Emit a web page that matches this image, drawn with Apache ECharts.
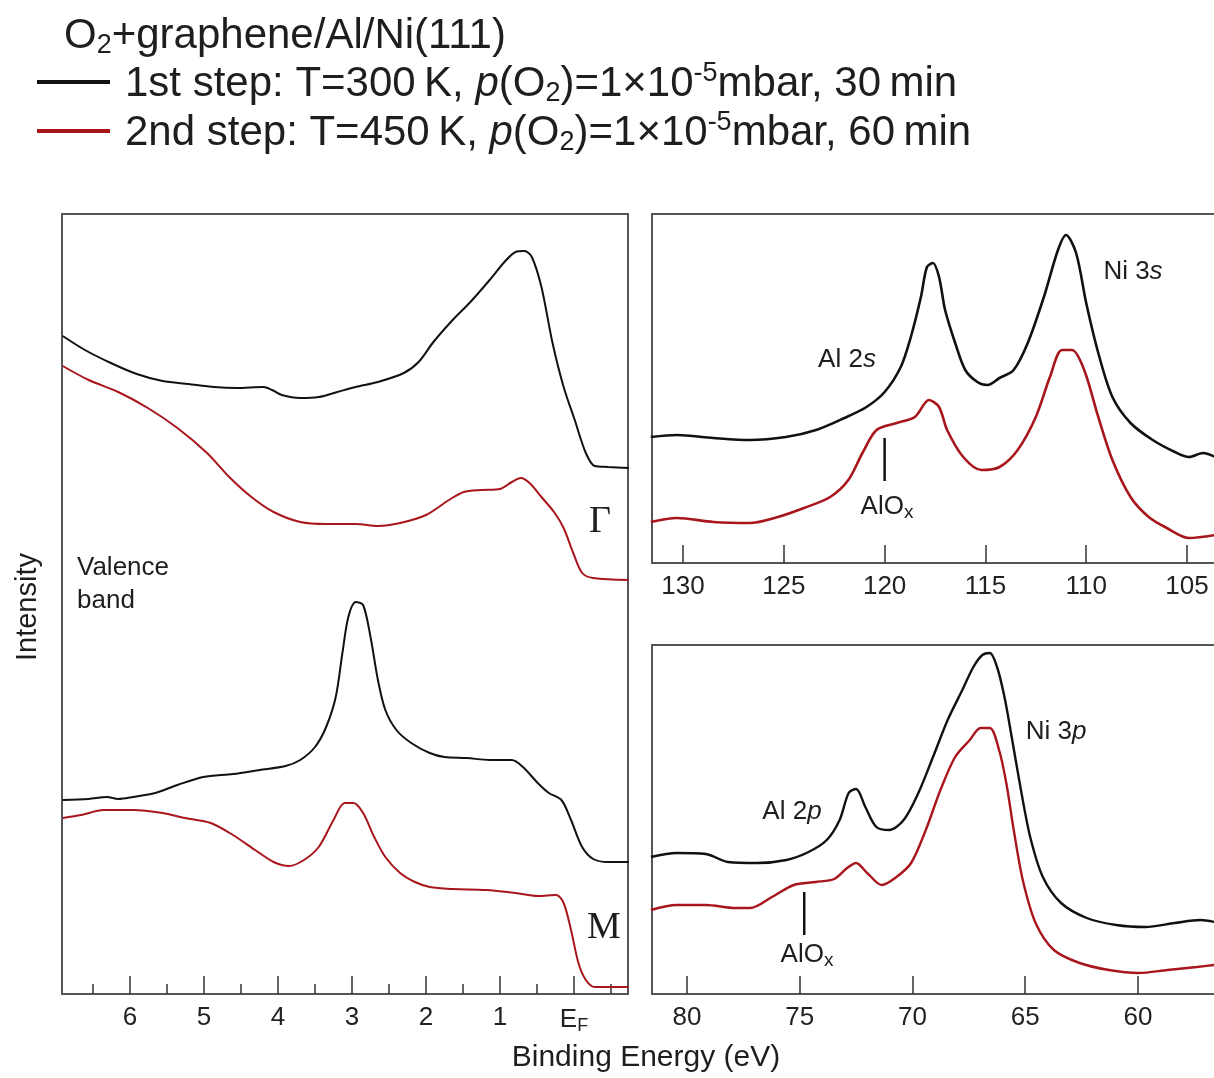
<!DOCTYPE html>
<html><head><meta charset="utf-8">
<script src="https://cdn.jsdelivr.net/npm/echarts@6/dist/echarts.min.js"></script>
<style>html,body{margin:0;padding:0;background:#fff}#c{width:1214px;height:1078px}</style>
</head><body><div id="c"></div>
<script>
// ---------- Valence band (left panel), binding energy in eV ----------
const gamma1E = [6.91, 6.61, 6.26, 5.91, 5.56, 5.21, 4.86, 4.56, 4.20, 4.08, 3.95, 3.70, 3.45, 3.20, 2.95, 2.65, 2.30, 2.10, 1.90, 1.64, 1.40, 1.14, 0.94, 0.79, 0.67, 0.57, 0.44, 0.29, 0.14, -0.01, -0.16, -0.28, -0.46, -0.74];
const gamma1I = [658, 644, 631, 620, 613, 610, 607, 606, 607, 604, 599, 596, 597, 602, 607, 612, 621, 632, 652, 674, 692, 714, 732, 742, 743, 737, 707, 651, 607, 574, 541, 528, 527, 526];
const gamma2E = [6.91, 6.56, 6.16, 5.76, 5.36, 4.96, 4.66, 4.36, 4.06, 3.70, 3.35, 2.95, 2.65, 2.35, 2.00, 1.69, 1.49, 1.25, 1.00, 0.84, 0.72, 0.60, 0.44, 0.27, 0.14, 0.01, -0.11, -0.26, -0.74];
const gamma2I = [628, 614, 602, 586, 566, 541, 517, 497, 482, 472, 470, 470, 468, 471, 479, 494, 502, 504, 505, 512, 516, 511, 497, 482, 466, 441, 421, 416, 414];
const m1E = [6.91, 6.56, 6.31, 6.16, 5.96, 5.66, 5.36, 5.01, 4.61, 4.25, 3.90, 3.70, 3.50, 3.35, 3.22, 3.13, 3.05, 2.95, 2.85, 2.75, 2.65, 2.55, 2.40, 2.20, 1.95, 1.75, 1.45, 1.14, 0.84, 0.69, 0.49, 0.34, 0.17, 0.04, -0.11, -0.26, -0.46, -0.74];
const m1I = [194, 195, 197, 195, 197, 201, 209, 217, 220, 224, 228, 234, 247, 267, 297, 341, 377, 392, 389, 357, 314, 284, 264, 251, 241, 237, 236, 234, 234, 227, 211, 201, 194, 174, 147, 135, 132, 132];
const m2E = [6.91, 6.66, 6.36, 5.96, 5.56, 5.26, 4.91, 4.61, 4.31, 4.06, 3.85, 3.65, 3.45, 3.25, 3.10, 2.98, 2.85, 2.70, 2.55, 2.35, 2.15, 1.95, 1.64, 1.19, 0.79, 0.49, 0.24, 0.14, 0.04, -0.06, -0.16, -0.28, -0.74];
const m2I = [176, 179, 184, 184, 181, 176, 171, 159, 144, 132, 128, 134, 147, 174, 191, 191, 181, 157, 137, 121, 112, 107, 105, 104, 101, 98, 99, 91, 64, 31, 14, 7, 7];

// ---------- Al 2s / Ni 3s (top right) ----------
const s1E = [131.6, 130.3, 128.5, 126.7, 124.9, 123.4, 122.0, 120.9, 120.0, 119.2, 118.7, 118.2, 117.9, 117.6, 117.3, 117.0, 116.5, 116.0, 115.4, 114.9, 114.3, 113.6, 112.9, 112.1, 111.4, 111.0, 110.5, 110.0, 109.4, 108.7, 107.8, 106.7, 105.6, 104.9, 104.2, 103.6];
const s1I = [126, 128, 125, 123, 126, 133, 145, 156, 171, 196, 226, 266, 296, 300, 286, 253, 220, 193, 181, 178, 185, 193, 220, 266, 313, 328, 310, 260, 210, 166, 140, 123, 111, 106, 110, 106];
const s2E = [131.6, 130.3, 128.5, 126.7, 125.3, 124.0, 122.7, 121.8, 121.1, 120.4, 119.4, 118.5, 117.8, 117.3, 116.9, 116.1, 115.2, 114.3, 113.4, 112.5, 111.8, 111.2, 110.7, 110.1, 109.4, 108.7, 107.8, 106.9, 106.0, 104.9, 103.6];
const s2I = [41, 45, 41, 40, 46, 55, 66, 83, 110, 133, 140, 146, 163, 156, 133, 106, 93, 96, 113, 146, 186, 213, 213, 193, 146, 103, 66, 46, 35, 25, 28];
const aloxSE = [120, 120];
const aloxSI = [82, 125];

// ---------- Al 2p / Ni 3p (bottom right) ----------
const p1E = [81.6, 80.46, 79.16, 78.18, 76.89, 75.59, 74.61, 73.80, 73.23, 72.83, 72.5, 72.09, 71.60, 71.04, 70.39, 69.74, 69.09, 68.44, 67.79, 67.30, 66.90, 66.57, 66.25, 65.92, 65.60, 65.19, 64.78, 64.22, 63.41, 62.27, 60.97, 59.67, 58.37, 57.23, 56.6];
const p1I = [137, 141, 140, 132, 131, 134, 142, 154, 174, 201, 205, 187, 167, 164, 174, 201, 237, 274, 304, 327, 339, 341, 327, 297, 257, 204, 157, 117, 91, 76, 69, 67, 71, 74, 72];
const p2E = [81.6, 80.46, 79.16, 77.86, 77.2, 76.23, 75.26, 74.29, 73.47, 72.9, 72.5, 72.01, 71.36, 70.71, 70.06, 69.41, 68.76, 68.11, 67.46, 66.98, 66.57, 66.16, 65.84, 65.51, 65.11, 64.54, 63.73, 62.59, 61.29, 59.99, 58.69, 57.39, 56.6];
const p2I = [84, 89, 89, 86, 86, 97, 109, 112, 115, 126, 131, 121, 109, 117, 131, 164, 204, 237, 254, 266, 266, 244, 211, 164, 114, 71, 44, 31, 24, 21, 24, 27, 29];
const aloxPE = [74.8, 74.8];
const aloxPI = [59, 102];

// ---------- tick labels ----------
const vbTicks = [6, 5, 4, 3, 2, 1, 0];
const vbMinorTicks = [6.5, 5.5, 4.5, 3.5, 2.5, 1.5, 0.5, -0.5];
const sTicks = [130, 125, 120, 115, 110, 105];
const pTicks = [80, 75, 70, 65, 60];

const FONT = '"Liberation Sans", Arial, Helvetica, sans-serif';
const SERIF = '"Liberation Serif", "Times New Roman", serif';
const BLACK = '#111111';
const RED = '#a8161c';
const TXT = '#1e1e1e';
const FRAME = '#555555';

function pts(E, I) { return E.map((e, i) => [e, I[i]]); }

const chart = echarts.init(document.getElementById('c'), null, {renderer: 'canvas'});
const tickStyle = {color: '#333', width: 1.5};
const labelBase = {color: '#222', fontSize: 26, fontFamily: FONT, margin: 11};
const frameLine = {show: true, lineStyle: {color: FRAME, width: 2}};

function xAxisDef(gi, min, max, ticks, extra) {
  return Object.assign({
    gridIndex: gi, type: 'value', min: min, max: max, inverse: true, position: 'bottom',
    axisLine: {show: false}, splitLine: {show: false},
    axisTick: {show: true, inside: true, length: 18, lineStyle: tickStyle, customValues: ticks},
    axisLabel: Object.assign({}, labelBase, {customValues: ticks})
  }, extra || {});
}
function frameAxis(gi, min, max, pos) {
  return {gridIndex: gi, type: 'value', min: min, max: max, inverse: true, position: pos,
    axisLine: frameLine, axisTick: {show: false}, axisLabel: {show: false}, splitLine: {show: false}};
}

function lineSeries(xi, yi, data, color, w) {
  return {type: 'line', xAxisIndex: xi, yAxisIndex: yi, data: data, showSymbol: false, symbol: 'none',
    smooth: 0.3, lineStyle: {color: color, width: w}, itemStyle: {color: color}, silent: true, z: 3};
}

const subRich = {
  sub: {fontSize: 27, fontFamily: FONT, fill: TXT, color: TXT, lineHeight: 27, verticalAlign: 'bottom'},
  sup: {fontSize: 27, fontFamily: FONT, fill: TXT, color: TXT, lineHeight: 27, verticalAlign: 'top'},
  it: {fontSize: 42, fontFamily: FONT, fontStyle: 'italic', fill: TXT, color: TXT, lineHeight: 47}
};
const annRich = {
  i: {fontSize: 26, fontFamily: FONT, fontStyle: 'italic', fill: TXT, color: TXT, lineHeight: 30},
  x: {fontSize: 19, fontFamily: FONT, fill: TXT, color: TXT, lineHeight: 19, verticalAlign: 'bottom'}
};

function txt(x, y, text, size, opts) {
  opts = opts || {};
  return {
    type: 'text', x: x, y: y, rotation: opts.rotation || 0, z: 10,
    style: {
      text: text, fill: TXT, fontSize: size, fontFamily: opts.family || FONT,
      lineHeight: opts.lineHeight || Math.round(size * 1.15),
      align: opts.align || 'center', textAlign: opts.align || 'center',
      verticalAlign: opts.va || 'middle', textVerticalAlign: opts.va || 'middle',
      rich: opts.rich
    }
  };
}

const S_MIN = 103.66, S_MAX = 131.54, P_MIN = 56.63, P_MAX = 81.55;

const option = {
  animation: false,
  backgroundColor: '#ffffff',
  grid: [
    {left: 62, top: 214, width: 566, height: 780, show: true, borderColor: FRAME, borderWidth: 2, backgroundColor: 'transparent'},
    {left: 652, top: 214, width: 562, height: 349, show: false},
    {left: 652, top: 645, width: 562, height: 349, show: false}
  ],
  xAxis: [
    xAxisDef(0, -0.73, 6.92, vbTicks, {
      axisLabel: Object.assign({}, labelBase, {
        customValues: vbTicks,
        formatter: v => (v === 0 ? '{e|E}{f|F}' : String(v)),
        rich: {
          e: {fontSize: 26, fontFamily: FONT, color: '#222', lineHeight: 30},
          f: {fontSize: 18, fontFamily: FONT, color: '#222', lineHeight: 18, verticalAlign: 'bottom'}
        }
      })
    }),
    xAxisDef(0, -0.73, 6.92, vbMinorTicks, {
      axisTick: {show: true, inside: true, length: 10, lineStyle: tickStyle, customValues: vbMinorTicks},
      axisLabel: {show: false}
    }),
    xAxisDef(1, S_MIN, S_MAX, sTicks, {axisLine: frameLine}),
    xAxisDef(2, P_MIN, P_MAX, pTicks, {axisLine: frameLine}),
    frameAxis(1, S_MIN, S_MAX, 'top'),
    frameAxis(2, P_MIN, P_MAX, 'top')
  ],
  yAxis: [
    {gridIndex: 0, type: 'value', min: 0, max: 780, show: false},
    {gridIndex: 1, type: 'value', min: 0, max: 349, position: 'left', axisLine: frameLine, axisTick: {show: false}, axisLabel: {show: false}, splitLine: {show: false}},
    {gridIndex: 2, type: 'value', min: 0, max: 349, position: 'left', axisLine: frameLine, axisTick: {show: false}, axisLabel: {show: false}, splitLine: {show: false}}
  ],
  series: [
    lineSeries(0, 0, pts(gamma1E, gamma1I), BLACK, 2),
    lineSeries(0, 0, pts(gamma2E, gamma2I), RED, 2),
    lineSeries(0, 0, pts(m1E, m1I), BLACK, 2),
    lineSeries(0, 0, pts(m2E, m2I), RED, 2),
    lineSeries(2, 1, pts(s1E, s1I), BLACK, 2.6),
    lineSeries(2, 1, pts(s2E, s2I), RED, 2.6),
    Object.assign(lineSeries(2, 1, pts(aloxSE, aloxSI), BLACK, 2.5), {smooth: false}),
    lineSeries(3, 2, pts(p1E, p1I), BLACK, 2.4),
    lineSeries(3, 2, pts(p2E, p2I), RED, 2.4),
    Object.assign(lineSeries(3, 2, pts(aloxPE, aloxPI), BLACK, 2.5), {smooth: false})
  ],
  graphic: {
    elements: [
      // legend block
      txt(64, 36, 'O{sub|2}+graphene/Al/Ni(111)', 42, {align: 'left', lineHeight: 47, rich: subRich}),
      {type: 'line', z: 10, shape: {x1: 37, y1: 82, x2: 110, y2: 82}, style: {stroke: BLACK, lineWidth: 4}},
      txt(125, 84, '1st step: T=300\u2009K, {it|p}(O{sub|2})=1\u00d710{sup|-5}mbar, 30\u2009min', 42, {align: 'left', lineHeight: 47, rich: subRich}),
      {type: 'line', z: 10, shape: {x1: 37, y1: 131, x2: 110, y2: 131}, style: {stroke: RED, lineWidth: 4}},
      txt(125, 133, '2nd step: T=450\u2009K, {it|p}(O{sub|2})=1\u00d710{sup|-5}mbar, 60\u2009min', 42, {align: 'left', lineHeight: 47, rich: subRich}),
      // axis titles
      txt(28, 607, 'Intensity', 29, {rotation: Math.PI / 2}),
      txt(646, 1058, 'Binding Energy (eV)', 30),
      // valence band panel
      txt(77, 584, 'Valence\nband', 26, {align: 'left', lineHeight: 33}),
      txt(600, 522, '\u0393', 38, {family: SERIF}),
      txt(604, 928, 'M', 38, {family: SERIF}),
      // core levels
      txt(847, 360, 'Al 2{i|s}', 26, {lineHeight: 30, rich: annRich}),
      txt(1133, 272, 'Ni 3{i|s}', 26, {lineHeight: 30, rich: annRich}),
      txt(887, 507, 'AlO{x|x}', 26, {lineHeight: 30, rich: annRich}),
      txt(792, 812, 'Al 2{i|p}', 26, {lineHeight: 30, rich: annRich}),
      txt(1056, 732, 'Ni 3{i|p}', 26, {lineHeight: 30, rich: annRich}),
      txt(807, 955, 'AlO{x|x}', 26, {lineHeight: 30, rich: annRich})
    ]
  }
};
chart.setOption(option);
</script>
</body></html>
